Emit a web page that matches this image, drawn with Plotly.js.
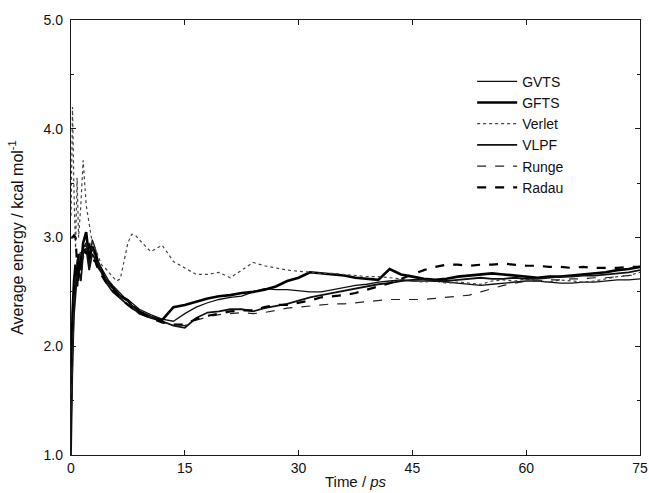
<!DOCTYPE html>
<html>
<head>
<meta charset="utf-8">
<script src="https://cdn.plot.ly/plotly-3.0.1.min.js"></script>
<style>html,body{margin:0;padding:0;background:#fff;}#chart{width:649px;height:493px;}</style>
</head>
<body>
<div id="chart"></div>
<script>
// Time axis (ps)
const time = [0, 0.2, 0.4, 0.6, 0.8, 1.0, 1.3, 1.6, 2.0, 2.4, 2.8, 3.2, 3.6, 4.0, 4.5, 5.0, 5.5, 6.0, 6.5, 7.0, 7.5, 8.0, 8.5, 9.0,
  10.5, 12, 13.5, 15, 16.5, 18, 19.5, 21, 22.5, 24, 25.5, 27, 28.5, 30, 31.5, 33, 34.5, 36, 37.5, 39, 40.5, 42, 43.5, 45,
  46.5, 48, 49.5, 51, 52.5, 54, 55.5, 57, 58.5, 60, 61.5, 63, 64.5, 66, 67.5, 69, 70.5, 72, 73.5, 75];

// Average energy (kcal/mol) per integrator
const gvts = [1.2, 2.0, 2.4, 2.6, 2.7, 2.6, 2.85, 2.9, 2.95, 2.75, 2.98, 2.9, 2.78, 2.72, 2.66, 2.6, 2.56, 2.52, 2.48, 2.45, 2.43, 2.4, 2.37, 2.34,
  2.29, 2.25, 2.23, 2.3, 2.36, 2.4, 2.43, 2.45, 2.46, 2.5, 2.53, 2.52, 2.52, 2.51, 2.5, 2.5, 2.52, 2.54, 2.56, 2.57, 2.59, 2.6, 2.61, 2.6,
  2.6, 2.6, 2.59, 2.58, 2.57, 2.56, 2.57, 2.58, 2.59, 2.6, 2.6, 2.59, 2.58, 2.58, 2.59, 2.59, 2.6, 2.61, 2.61, 2.62];

const gfts = [1.6, 2.3, 2.6, 2.75, 2.55, 2.85, 2.7, 2.95, 3.05, 2.8, 2.92, 2.85, 2.75, 2.7, 2.62, 2.58, 2.55, 2.5, 2.46, 2.44, 2.42, 2.37, 2.35, 2.32,
  2.27, 2.24, 2.36, 2.38, 2.41, 2.44, 2.46, 2.47, 2.49, 2.5, 2.52, 2.55, 2.6, 2.63, 2.68, 2.67, 2.66, 2.65, 2.63, 2.62, 2.61, 2.71, 2.66, 2.64,
  2.62, 2.61, 2.62, 2.64, 2.65, 2.66, 2.67, 2.66, 2.65, 2.64, 2.63, 2.64, 2.64, 2.65, 2.66, 2.67, 2.68, 2.7, 2.71, 2.73];

const verlet = [3.2, 4.2, 3.4, 2.9, 3.55, 3.0, 3.3, 3.71, 3.3, 3.1, 2.95, 2.9, 2.82, 2.75, 2.72, 2.68, 2.63, 2.6, 2.62, 2.8, 2.95, 3.03, 3.02, 2.98,
  2.87, 2.93, 2.78, 2.72, 2.66, 2.66, 2.68, 2.63, 2.7, 2.77, 2.74, 2.72, 2.7, 2.69, 2.68, 2.67, 2.67, 2.66, 2.65, 2.64, 2.64, 2.63, 2.62, 2.6,
  2.59, 2.6, 2.58, 2.59, 2.58, 2.57, 2.6, 2.61, 2.6, 2.62, 2.6, 2.59, 2.61, 2.6, 2.59, 2.6, 2.62, 2.64, 2.65, 2.68];

const vlpf = [1.0, 1.9, 2.3, 2.5, 2.65, 2.7, 2.6, 2.85, 2.9, 2.7, 2.85, 2.8, 2.72, 2.68, 2.6, 2.55, 2.5, 2.47, 2.44, 2.41, 2.38, 2.35, 2.33, 2.3,
  2.26, 2.23, 2.19, 2.17, 2.26, 2.31, 2.32, 2.34, 2.34, 2.32, 2.35, 2.37, 2.39, 2.42, 2.45, 2.47, 2.49, 2.51, 2.53, 2.55, 2.57, 2.58, 2.6, 2.61,
  2.62, 2.6, 2.6, 2.61, 2.62, 2.63, 2.62, 2.62, 2.63, 2.62, 2.62, 2.63, 2.64, 2.64, 2.65, 2.65, 2.66, 2.67, 2.68, 2.7];

const runge = [1.4, 2.1, 2.45, 2.65, 2.8, 2.75, 2.9, 2.8, 2.95, 2.85, 2.9, 2.82, 2.76, 2.7, 2.63, 2.57, 2.53, 2.49, 2.45, 2.42, 2.4, 2.37, 2.34, 2.31,
  2.27, 2.22, 2.2, 2.19, 2.24, 2.27, 2.29, 2.3, 2.31, 2.3, 2.31, 2.33, 2.35, 2.36, 2.37, 2.38, 2.39, 2.39, 2.4, 2.41, 2.42, 2.43, 2.43, 2.43,
  2.43, 2.44, 2.45, 2.46, 2.47, 2.5, 2.53, 2.56, 2.58, 2.6, 2.6, 2.61, 2.61, 2.62, 2.62, 2.63, 2.63, 2.64, 2.65, 2.66];

const radau = [3.0, 3.0, 3.02, 3.0, 2.75, 2.65, 2.8, 2.9, 2.85, 2.95, 2.8, 2.78, 2.7, 2.65, 2.6, 2.55, 2.52, 2.48, 2.45, 2.41, 2.38, 2.36, 2.33, 2.31,
  2.26, 2.22, 2.2, 2.2, 2.25, 2.28, 2.3, 2.32, 2.33, 2.33, 2.36, 2.38, 2.38, 2.4, 2.42, 2.45, 2.46, 2.47, 2.49, 2.52, 2.55, 2.58, 2.62, 2.66,
  2.7, 2.73, 2.75, 2.75, 2.74, 2.75, 2.75, 2.76, 2.75, 2.74, 2.74, 2.73, 2.73, 2.72, 2.73, 2.72, 2.72, 2.72, 2.73, 2.73];

const seriesNames = ["GVTS", "GFTS", "Verlet", "VLPF", "Runge", "Radau"];
const xTicks = [0, 15, 30, 45, 60, 75];
const yTicks = [1.0, 2.0, 3.0, 4.0, 5.0];

const values = [gvts, gfts, verlet, vlpf, runge, radau];
const styles = [
  {color: "#111", width: 1.3, dash: "solid"},
  {color: "#000", width: 2.6, dash: "solid"},
  {color: "#444", width: 1.2, dash: "dot"},
  {color: "#111", width: 1.8, dash: "solid"},
  {color: "#222", width: 1.2, dash: "dash"},
  {color: "#000", width: 2.2, dash: "dash"}
];

const traces = seriesNames.map((n, i) => ({
  x: time, y: values[i], name: n, type: "scatter", mode: "lines",
  line: styles[i]
}));

const FONT = "Liberation Sans, Arial, Helvetica, sans-serif";
const axisCommon = {
  showgrid: false, zeroline: false, showline: true, linecolor: "#1a1a1a", linewidth: 1.2,
  mirror: "ticks", ticks: "inside", ticklen: 5, tickcolor: "#1a1a1a", tickwidth: 1.2,
  tickfont: {family: FONT, size: 14, color: "#111"}
};

const layout = {
  width: 649, height: 493,
  margin: {l: 71, r: 9, t: 20, b: 38},
  paper_bgcolor: "#fff", plot_bgcolor: "#fff",
  font: {family: FONT, color: "#111"},
  showlegend: true,
  legend: {x: 0.705, y: 0.895, xanchor: "left", yanchor: "top", bgcolor: "rgba(0,0,0,0)",
    font: {size: 14, color: "#111", family: FONT}, itemwidth: 40, tracegroupgap: 0},
  xaxis: Object.assign({}, axisCommon, {
    range: [0, 75], tickvals: xTicks, ticktext: xTicks.map(String),
    title: {text: "Time / <i>ps</i>", font: {size: 15, family: FONT}, standoff: 1}
  }),
  yaxis: Object.assign({}, axisCommon, {
    range: [1, 5], tickvals: yTicks, ticktext: yTicks.map(v => v.toFixed(1)),
    ticklabelstandoff: 4,
    minor: {dtick: 0.5, ticks: "inside", ticklen: 3, tickcolor: "#1a1a1a", showgrid: false},
    title: {text: "Average energy / kcal mol<sup>-1</sup>", font: {size: 16, family: FONT}, standoff: 16}
  })
};

Plotly.newPlot("chart", traces, layout, {displayModeBar: false, staticPlot: true});
</script>
</body>
</html>
